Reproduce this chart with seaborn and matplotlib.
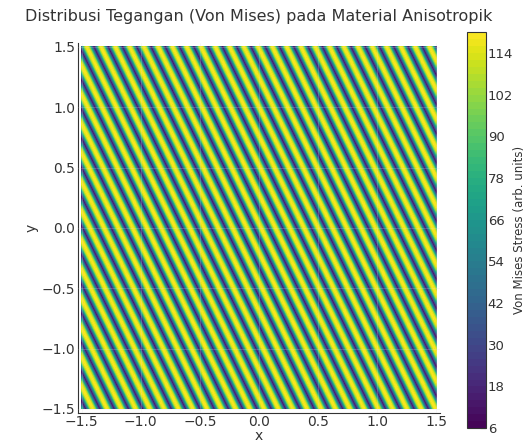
"""Von Mises stress stripes on an anisotropic material (contour map)."""
import matplotlib
matplotlib.use('Agg')
import matplotlib.pyplot as plt
import numpy as np
import seaborn as sns

# domain and field parameters
x_limits = [-1.5, 1.5]
y_limits = [-1.5, 1.5]
grid_points = 300
wave_x = 52.0      # ~25 stripes across
wave_y = 26.0      # ~12 stripes down
phase_offset = 0.6
stress_floor = 6.2
stress_amp = 113.0
profile_power = 0.75   # yellow bands a bit wider than the dark ones
levels = np.arange(6, 121, 2)
cbar_ticks = [6, 18, 30, 42, 54, 66, 78, 90, 102, 114]
axis_ticks = [-1.5, -1.0, -0.5, 0.0, 0.5, 1.0, 1.5]

sns.set_style('white')
plt.rcParams['font.family'] = ['DejaVu Sans']
plt.rcParams['text.color'] = '#333333'
plt.rcParams['axes.labelcolor'] = '#333333'
plt.rcParams['xtick.color'] = '#333333'
plt.rcParams['ytick.color'] = '#333333'

x = np.linspace(x_limits[0], x_limits[1], grid_points)
y = np.linspace(y_limits[0], y_limits[1], grid_points)
X, Y = np.meshgrid(x, y)
wave = (1 + np.sin(wave_x * X + wave_y * Y + phase_offset)) / 2
stress = stress_floor + stress_amp * wave ** profile_power

fig = plt.figure(figsize=(5.28, 4.46), dpi=100)
ax = fig.add_axes([0.148, 0.075, 0.685, 0.828])
cax = fig.add_axes([0.884, 0.040, 0.037, 0.888])

cs = ax.contourf(X, Y, stress, levels=levels, cmap='viridis')
ax.set_xlim(-1.53, 1.53)
ax.set_ylim(-1.53, 1.53)
ax.set_xticks(axis_ticks)
ax.set_yticks(axis_ticks)
ax.grid(True, color='#dddddd', linewidth=0.5, alpha=0.3)
ax.set_axisbelow(False)
for side in ['top', 'right']:
    ax.spines[side].set_visible(False)
for side in ['left', 'bottom']:
    ax.spines[side].set_color('#333333')
ax.tick_params(direction='in', length=4, labelsize=10, pad=2)
ax.set_xlabel('x', fontsize=10, labelpad=0)
ax.set_ylabel('y', fontsize=10, labelpad=2)
ax.set_title('Distribusi Tegangan (Von Mises) pada Material Anisotropik',
             fontsize=11.5, pad=16)

cbar = fig.colorbar(cs, cax=cax, ticks=cbar_ticks)
cbar.ax.tick_params(direction='in', length=4, labelsize=9.5, pad=1)
cbar.set_label('Von Mises Stress (arb. units)', fontsize=8.5, labelpad=0)
cbar.outline.set_edgecolor('#333333')

fig.savefig('out.png', dpi=100)
